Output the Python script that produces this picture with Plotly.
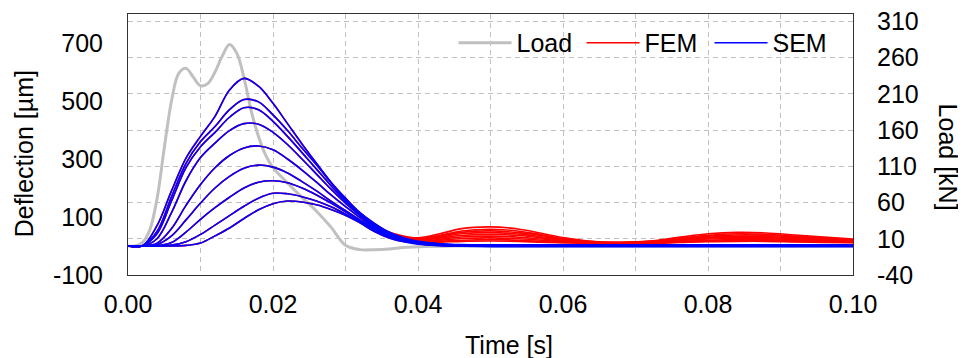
import plotly.graph_objects as go

# ---------------- data ----------------
t_load = [0, 0.001, 0.002, 0.003, 0.004, 0.005, 0.006, 0.007, 0.008, 0.009,
          0.010, 0.011, 0.012, 0.013, 0.014, 0.015, 0.016, 0.017, 0.018, 0.019,
          0.020, 0.022, 0.024, 0.026, 0.028, 0.030, 0.032, 0.034, 0.036, 0.038,
          0.040, 0.045, 0.050, 0.060, 0.070, 0.080, 0.090, 0.100]
load = [0, 0, 5, 22, 65, 135, 200, 238, 245, 233,
        221, 224, 240, 262, 278, 266, 232, 186, 151, 125,
        108, 87, 67, 48, 26, 1, -5, -5, -4, -2,
        -1, 0, 0, 0, 0, 0, 0, 0]

t_rise = [0, 0.002, 0.004, 0.006, 0.008, 0.010, 0.012, 0.014, 0.016, 0.018,
          0.020, 0.022, 0.024, 0.026, 0.028, 0.030, 0.032, 0.034, 0.036]
rise_1 = [0, 1, 70, 190, 303, 378, 447, 538, 578, 551, 492, 422, 352, 285, 220, 165, 115, 78, 48]
rise_2 = [0, 1, 50, 170, 285, 360, 412, 470, 505, 497, 452, 398, 338, 280, 218, 160, 112, 74, 45]
rise_3 = [0, 1, 42, 155, 270, 342, 392, 444, 477, 470, 430, 378, 322, 265, 208, 155, 108, 71, 43]
rise_4 = [0, 0, 25, 115, 225, 305, 355, 398, 422, 420, 392, 350, 300, 248, 196, 148, 105, 68, 41]
rise_5 = [0, 0, 10, 60, 140, 212, 270, 312, 338, 345, 332, 300, 262, 220, 176, 136, 98, 64, 38]
rise_6 = [0, 0, 5, 35, 90, 148, 200, 240, 268, 279, 272, 252, 222, 190, 155, 122, 90, 60, 36]
rise_7 = [0, 0, 1, 12, 48, 92, 132, 168, 200, 220, 225, 218, 200, 176, 148, 118, 86, 56, 33]
rise_8 = [0, 0, 0, 3, 15, 40, 72, 105, 137, 165, 182, 180, 170, 155, 135, 110, 82, 52, 30]
rise_9 = [0, 0, 0, 0, 2, 10, 35, 62, 95, 125, 146, 155, 152, 142, 126, 106, 80, 50, 28]

t_tail = [0.038, 0.040, 0.043, 0.046, 0.050, 0.054, 0.057, 0.060, 0.064,
          0.068, 0.072, 0.076, 0.080, 0.084, 0.088, 0.092, 0.096, 0.100]
fem_tail_1 = [34, 28, 42, 60, 66, 58, 44, 29, 16, 13, 17, 30, 42, 47, 45, 38, 31, 24]
fem_tail_2 = [30, 25, 37, 52, 58, 51, 39, 26, 15, 12, 16, 27, 37, 42, 40, 34, 28, 21]
fem_tail_3 = [28, 23, 34, 47, 52, 46, 36, 24, 14, 12, 15, 24, 34, 38, 37, 31, 26, 20]
fem_tail_4 = [26, 21, 30, 42, 46, 41, 32, 22, 13, 11, 14, 22, 30, 34, 33, 28, 23, 18]
fem_tail_5 = [24, 19, 27, 36, 40, 36, 28, 20, 12, 10, 13, 20, 27, 30, 29, 25, 21, 17]
fem_tail_6 = [22, 17, 23, 31, 34, 30, 24, 17, 11, 9, 12, 18, 24, 26, 25, 22, 18, 15]
fem_tail_7 = [20, 15, 20, 26, 28, 25, 20, 15, 11, 9, 11, 16, 20, 22, 21, 19, 16, 13]
fem_tail_8 = [18, 13, 16, 20, 22, 20, 16, 12, 9, 8, 10, 14, 17, 19, 18, 16, 14, 12]
fem_tail_9 = [16, 12, 13, 16, 17, 16, 13, 11, 9, 8, 9, 12, 15, 16, 16, 14, 12, 11]

sem_tail_1 = [28, 16, 8, 5, 4, 4, 4, 4, 4, 4, 4, 4, 4, 4, 4, 4, 4, 4]
sem_tail_2 = [26, 15, 7, 4, 3, 3, 3, 3, 3, 3, 3, 3, 3, 3, 3, 3, 3, 3]
sem_tail_3 = [25, 14, 7, 4, 3, 3, 3, 3, 3, 3, 3, 3, 3, 3, 3, 3, 3, 3]
sem_tail_4 = [24, 13, 6, 3, 2, 2, 2, 2, 2, 2, 2, 2, 2, 2, 2, 2, 2, 2]
sem_tail_5 = [22, 11, 5, 3, 2, 2, 2, 2, 2, 2, 2, 2, 2, 2, 2, 2, 2, 2]
sem_tail_6 = [21, 10, 4, 2, 1, 1, 1, 1, 1, 1, 1, 1, 1, 1, 1, 1, 1, 1]
sem_tail_7 = [19, 9, 3, 1, 0, 0, 0, 0, 0, 0, 0, 0, 0, 0, 0, 0, 0, 0]
sem_tail_8 = [17, 8, 2, 0, -1, -1, -1, -1, -1, -1, -1, -1, -1, -1, -1, -1, -1, -1]
sem_tail_9 = [15, 6, 1, -1, -2, -2, -2, -2, -2, -2, -2, -2, -2, -2, -2, -2, -2, -2]

rises = [rise_1, rise_2, rise_3, rise_4, rise_5, rise_6, rise_7, rise_8, rise_9]
fem_tails = [fem_tail_1, fem_tail_2, fem_tail_3, fem_tail_4, fem_tail_5,
             fem_tail_6, fem_tail_7, fem_tail_8, fem_tail_9]
sem_tails = [sem_tail_1, sem_tail_2, sem_tail_3, sem_tail_4, sem_tail_5,
             sem_tail_6, sem_tail_7, sem_tail_8, sem_tail_9]

x_ticks = [0, 0.02, 0.04, 0.06, 0.08, 0.10]
x_labels = ["0.00", "0.02", "0.04", "0.06", "0.08", "0.10"]
defl_ticks = [-100, 100, 300, 500, 700]
defl_labels = ["-100", "100", "300", "500", "700"]
load_ticks = [-40, 10, 60, 110, 160, 210, 260, 310]
load_labels = ["-40", "10", "60", "110", "160", "210", "260", "310"]

# ---------------- figure ----------------
FONT = "Liberation Sans, Arial, sans-serif"
GRID = "#C0C0C0"
FS = 25
TICKFONT = dict(family=FONT, size=FS, color="black")
t_full = t_rise + t_tail

fig = go.Figure()
fig.add_trace(go.Scatter(x=t_load, y=load, mode="lines", name="Load",
                         line=dict(color="#C0C0C0", width=3, shape="spline"),
                         yaxis="y"))
for i, (r, ft) in enumerate(zip(rises, fem_tails)):
    fig.add_trace(go.Scatter(x=t_full, y=r + ft, mode="lines", name="FEM",
                             legendgroup="FEM", showlegend=(i == 0),
                             line=dict(color="#FF0000", width=1.6, shape="spline"),
                             yaxis="y2"))
for i, (r, st) in enumerate(zip(rises, sem_tails)):
    fig.add_trace(go.Scatter(x=t_full, y=r + st, mode="lines", name="SEM",
                             legendgroup="SEM", showlegend=(i == 0),
                             line=dict(color="#0000FF", width=1.6, shape="spline"),
                             yaxis="y2"))

# the page places the plot 8px from the top-left corner, so the figure is
# 8px smaller and the left/top margins are 8px smaller to compensate
fig.update_layout(
    template="none",
    width=958, height=350,
    margin=dict(l=120, r=113, t=6, b=83, pad=0),
    paper_bgcolor="white", plot_bgcolor="white",
    font=dict(family=FONT, size=FS, color="black"),
    showlegend=True,
    legend=dict(orientation="h", x=0.449, y=0.889, xanchor="left", yanchor="middle",
                bgcolor="rgba(0,0,0,0)", itemwidth=53,
                entrywidth=60, entrywidthmode="pixels",
                font=dict(family=FONT, size=FS, color="black"), traceorder="normal"),
    xaxis=dict(range=[0, 0.1], tickvals=x_ticks, ticktext=x_labels,
               tickfont=TICKFONT, automargin=False, ticklabeloverflow="allow",
               showgrid=True, gridcolor=GRID, griddash="5px,4px", gridwidth=1,
               minor=dict(dtick=0.01, tick0=0, showgrid=True, gridcolor=GRID,
                          griddash="5px,4px", gridwidth=1),
               showline=True, linecolor="#333333", linewidth=1, mirror=True,
               ticks="", ticklabelstandoff=7, zeroline=False),
    yaxis=dict(range=[-40, 320], tickvals=load_ticks, ticktext=load_labels,
               side="right", tickfont=TICKFONT, automargin=False,
               ticklabeloverflow="allow",
               showgrid=True, gridcolor=GRID, griddash="5px,4px", gridwidth=1,
               showline=True, linecolor="#333333", linewidth=1, mirror=True,
               ticks="", ticklabelstandoff=18, zeroline=False),
    yaxis2=dict(range=[-100, 800], tickvals=defl_ticks, ticktext=defl_labels,
                side="left", overlaying="y", tickfont=TICKFONT, automargin=False,
                ticklabeloverflow="allow",
                showgrid=False, showline=False,
                ticks="", ticklabelstandoff=24, zeroline=False),
    annotations=[
        dict(text="Deflection [µm]", xref="paper", yref="paper",
             x=-0.143, y=0.4636, xanchor="center", yanchor="middle",
             textangle=-90, showarrow=False, font=dict(family=FONT, size=FS)),
        dict(text="Load [kN]", xref="paper", yref="paper",
             x=1.131, y=0.45, xanchor="center", yanchor="middle",
             textangle=90, showarrow=False, font=dict(family=FONT, size=FS)),
        dict(text="Time [s]", xref="paper", yref="paper",
             x=0.5255, y=-0.268, xanchor="center", yanchor="middle",
             showarrow=False, font=dict(family=FONT, size=FS)),
    ],
)

fig.write_html("out.html")
